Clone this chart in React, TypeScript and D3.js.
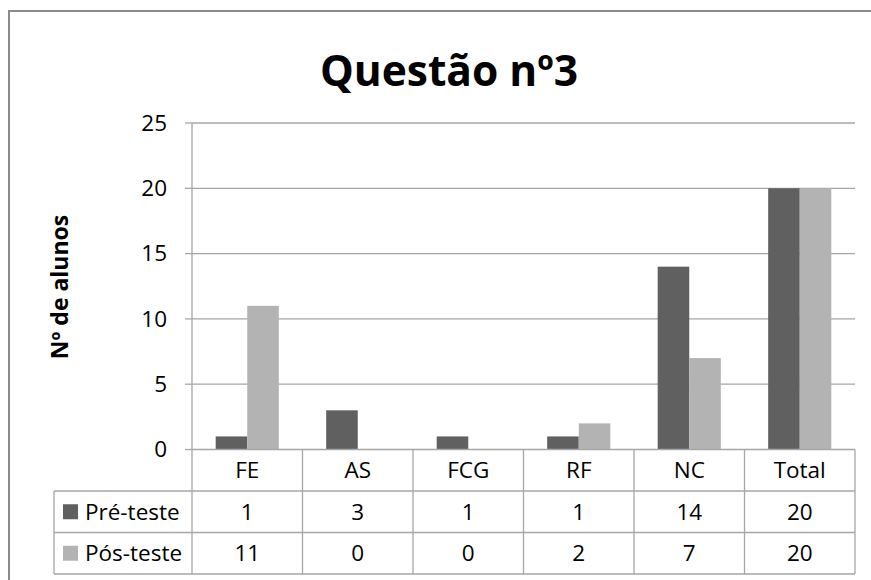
import { scaleBand, scaleLinear } from 'd3'

const categories = ['FE', 'AS', 'FCG', 'RF', 'NC', 'Total']
const seriesNames = ['Pré-teste', 'Pós-teste']
const preValues = [1, 3, 1, 1, 14, 20]
const postValues = [11, 0, 0, 2, 7, 20]
const yTickValues = [0, 5, 10, 15, 20, 25]

const seriesColors = ['#606060', '#b3b3b3']
const gridColor = '#a6a6a6'
const fontFamily = '"Open Sans", Lato, sans-serif'
const labelSize = 22.5

const width = 871
const height = 580

const plot = {
  left: 192,
  right: 855,
  top: 123,
  bottom: 449.5,
}

const tableLeft = 54
const rowHeight = 41.5

function App() {
  const series = [preValues, postValues]

  const xScale = scaleBand<string>()
    .domain(categories)
    .range([plot.left, plot.right])
    .padding(0)

  const innerScale = scaleBand<string>()
    .domain(seriesNames)
    .range([0, xScale.bandwidth()])
    .paddingInner(0)
    .paddingOuter(0.75)

  const yScale = scaleLinear().domain([0, 25]).range([plot.bottom, plot.top])

  const rowTops = [plot.bottom, plot.bottom + rowHeight, plot.bottom + rowHeight * 2]
  const tableBottom = plot.bottom + rowHeight * 3

  return (
    <svg
      width={width}
      height={height}
      viewBox={`0 0 ${width} ${height}`}
      style={{ position: 'absolute', left: 0, top: 0, background: '#fff' }}
      fontFamily={fontFamily}
    >
      <rect x={9} y={11} width={900} height={620} fill="#fff" stroke="#8a8a8a" strokeWidth={2} />

      <text x={449} y={86} textAnchor="middle" fontSize={42.5} fontWeight={700} fill="#000">
        Questão nº3
      </text>

      <text
        transform={`translate(68, 287) rotate(-90)`}
        textAnchor="middle"
        fontSize={23}
        fontWeight={700}
        fill="#000"
      >
        Nº de alunos
      </text>

      {yTickValues.map((tick) => {
        const y = yScale(tick)

        return (
          <g key={tick}>
            {tick > 0 && (
              <line x1={plot.left} y1={y} x2={plot.right} y2={y} stroke={gridColor} strokeWidth={1.3} />
            )}
            <line x1={plot.left - 7} y1={y} x2={plot.left} y2={y} stroke={gridColor} strokeWidth={1.3} />
            <text x={167} y={y} dy="0.35em" textAnchor="end" fontSize={labelSize} fill="#000">
              {tick}
            </text>
          </g>
        )
      })}

      <line x1={plot.left} y1={plot.top} x2={plot.left} y2={tableBottom} stroke={gridColor} strokeWidth={1.3} />

      {categories.map((category, i) =>
        series.map((values, s) => {
          const x = (xScale(category) ?? 0) + (innerScale(seriesNames[s]) ?? 0)
          const y = yScale(values[i])

          return (
            <rect
              key={`${category}-${s}`}
              x={x}
              y={y}
              width={innerScale.bandwidth()}
              height={plot.bottom - y}
              fill={seriesColors[s]}
            />
          )
        }),
      )}

      {/* data table */}
      <line x1={plot.left} y1={rowTops[0]} x2={plot.right} y2={rowTops[0]} stroke={gridColor} strokeWidth={1.3} />
      {[rowTops[1], rowTops[2], tableBottom].map((y) => (
        <line key={y} x1={tableLeft} y1={y} x2={plot.right} y2={y} stroke={gridColor} strokeWidth={1.3} />
      ))}
      <line x1={tableLeft} y1={rowTops[1]} x2={tableLeft} y2={tableBottom} stroke={gridColor} strokeWidth={1.3} />

      {categories.map((category) => {
        const x = (xScale(category) ?? 0) + xScale.bandwidth()

        return (
          <line
            key={`${category}-sep`}
            x1={x}
            y1={plot.bottom}
            x2={x}
            y2={tableBottom}
            stroke={gridColor}
            strokeWidth={1.3}
          />
        )
      })}

      {categories.map((category) => {
        const x = (xScale(category) ?? 0) + xScale.bandwidth() / 2

        return (
          <text
            key={`${category}-label`}
            x={x}
            y={rowTops[0] + rowHeight / 2}
            dy="0.35em"
            textAnchor="middle"
            fontSize={labelSize}
            fill="#000"
          >
            {category}
          </text>
        )
      })}

      {series.map((values, s) => {
        const rowY = rowTops[s + 1] + rowHeight / 2

        return (
          <g key={seriesNames[s]}>
            <rect x={63} y={rowY - 7.5} width={15} height={15} fill={seriesColors[s]} />
            <text x={85} y={rowY} dy="0.35em" fontSize={labelSize} fill="#000">
              {seriesNames[s]}
            </text>
            {categories.map((category, i) => (
              <text
                key={`${category}-${s}-value`}
                x={(xScale(category) ?? 0) + xScale.bandwidth() / 2}
                y={rowY}
                dy="0.35em"
                textAnchor="middle"
                fontSize={labelSize}
                fill="#000"
              >
                {values[i]}
              </text>
            ))}
          </g>
        )
      })}
    </svg>
  )
}

export default App
